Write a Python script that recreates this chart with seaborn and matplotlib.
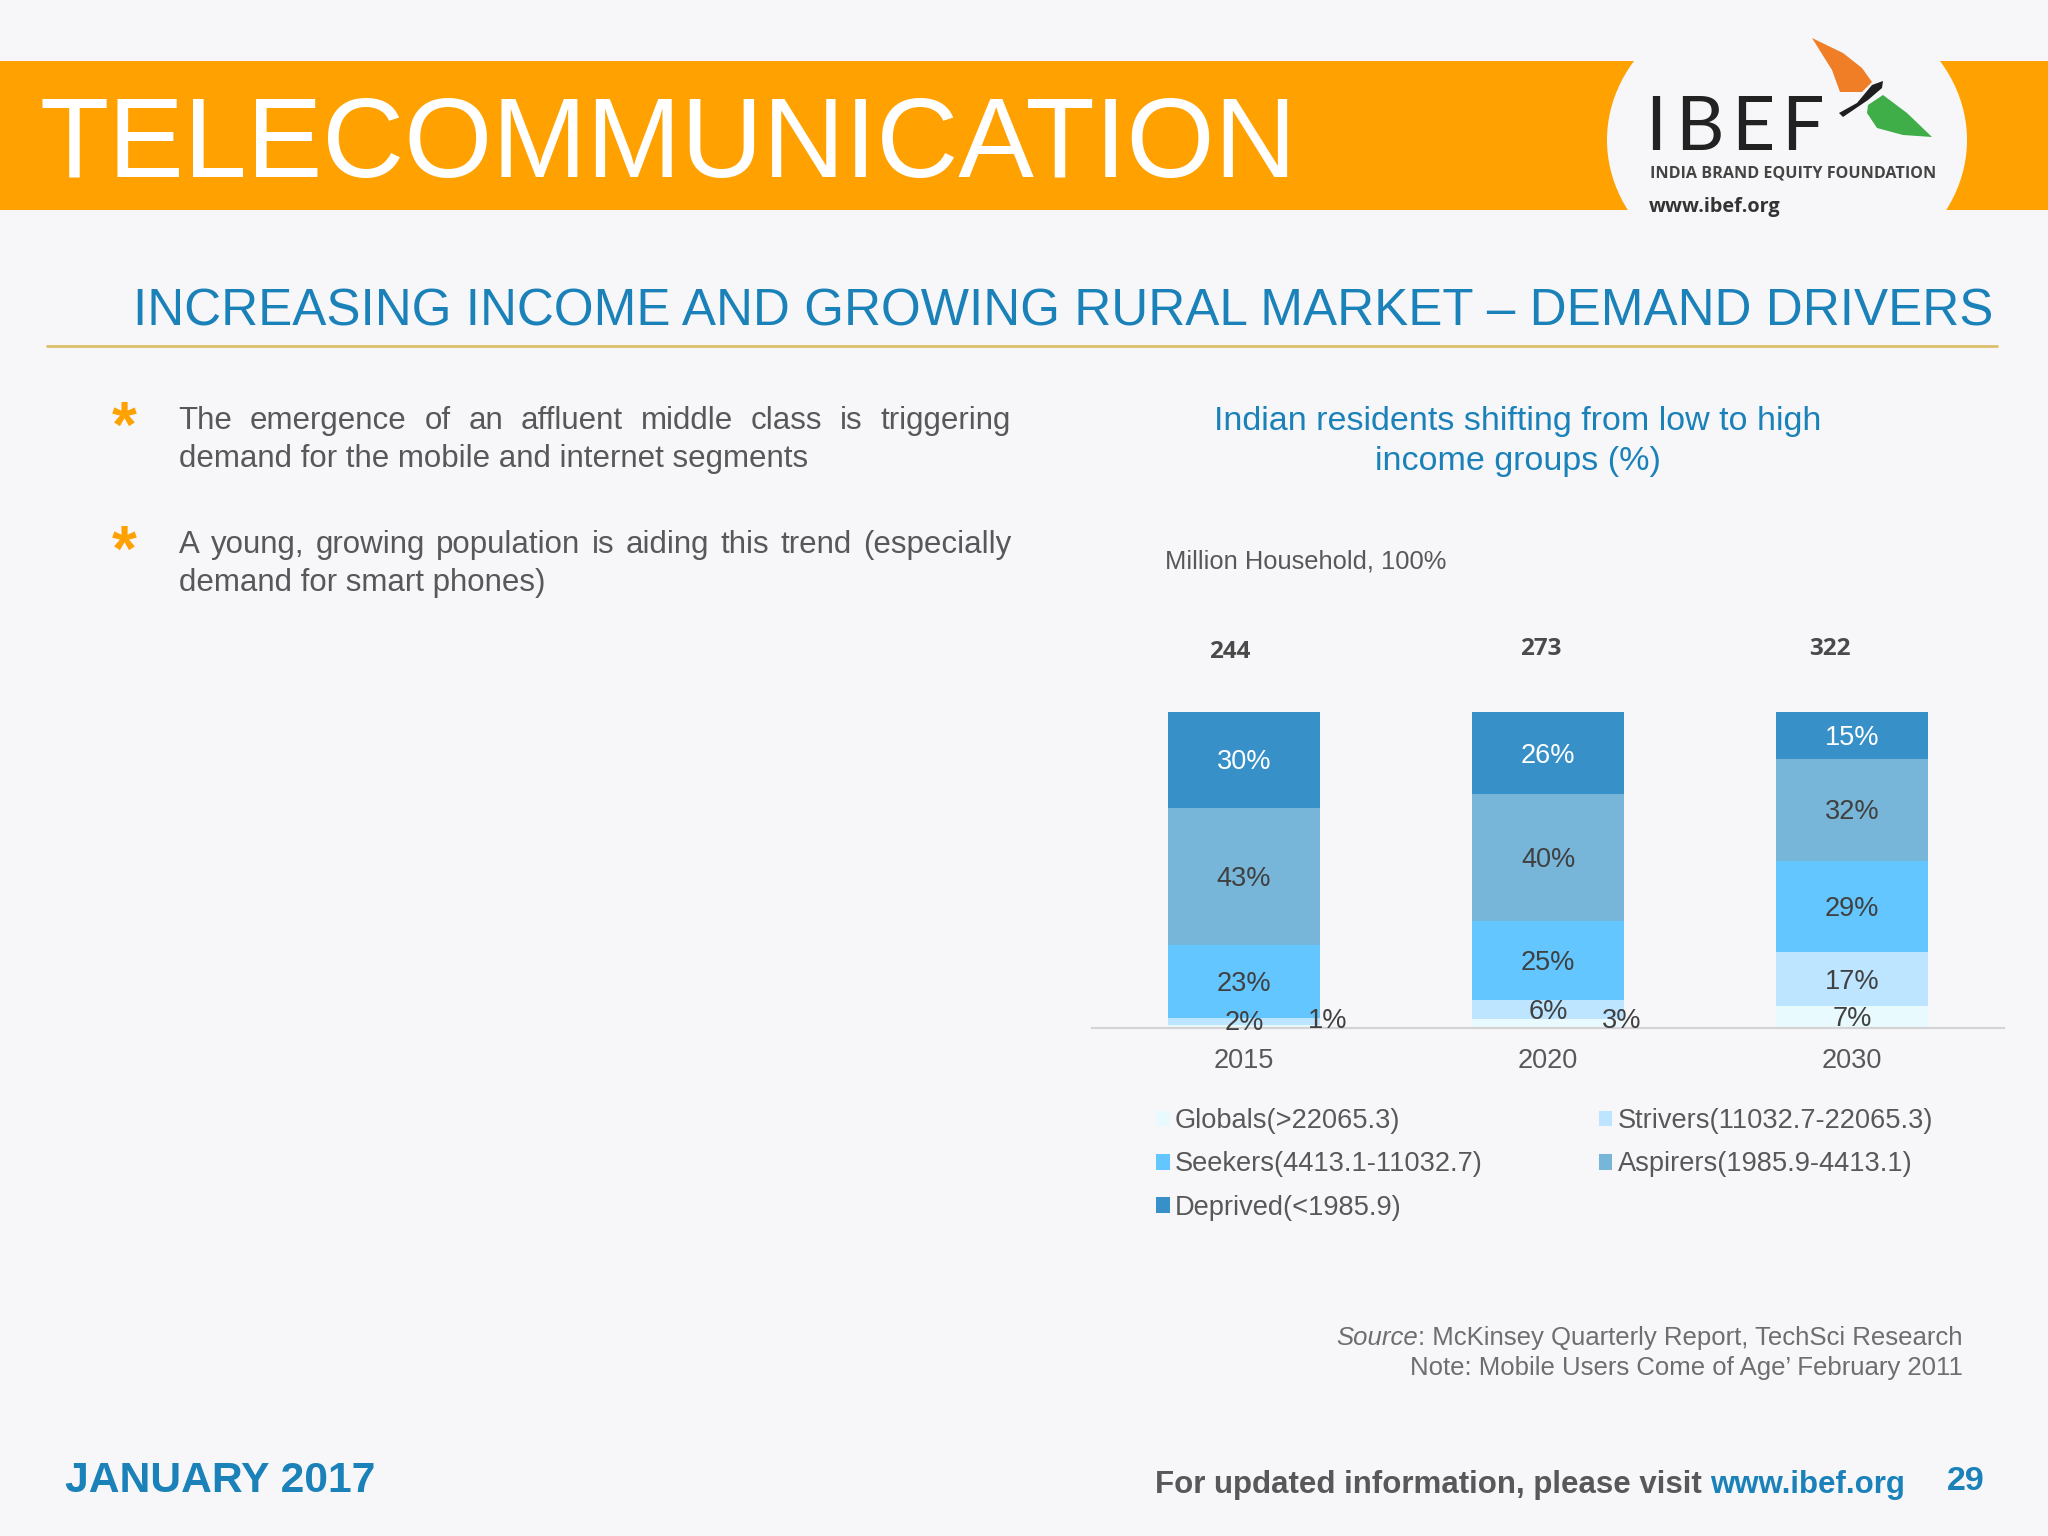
import numpy as np
import pandas as pd
import matplotlib
matplotlib.use("Agg")
import matplotlib.pyplot as plt
from matplotlib.patches import Ellipse, Polygon, Rectangle
import seaborn as sns

# chart values
years = ["2015", "2020", "2030"]
totals = ["244", "273", "322"]
globals_pct = [1, 3, 7]
strivers_pct = [2, 6, 17]
seekers_pct = [23, 25, 29]
aspirers_pct = [43, 40, 32]
deprived_pct = [30, 26, 15]
series_names = ["Globals(>22065.3)", "Strivers(11032.7-22065.3)", "Seekers(4413.1-11032.7)",
                "Aspirers(1985.9-4413.1)", "Deprived(<1985.9)"]
series_colors = ["#E8FAFD", "#BEE5FF", "#63C6FF", "#77B5D9", "#3790C8"]

BG = "#F7F7F9"
BLUE = "#1A81B9"
ORANGE = "#FFA100"
GREY = "#58585A"
W, H = 2048, 1536

sns.set_theme(style="white")
plt.rcParams["font.family"] = ["Liberation Sans", "DejaVu Sans"]

fig = plt.figure(figsize=(W / 100, H / 100), dpi=100, facecolor=BG)

# full page axes in pixels, for the slide furniture
page = fig.add_axes([0, 0, 1, 1], zorder=0)
page.set_xlim(0, W)
page.set_ylim(H, 0)
page.axis("off")

page.add_patch(Rectangle((0, 61), W, 149, color=ORANGE, lw=0))
page.add_patch(Ellipse((1787, 140), 360, 300, color=BG, lw=0))
page.text(40, 177, "TELECOMMUNICATION", color="white", fontsize=81.6)

# logo
page.add_patch(Polygon([(1812, 38), (1843, 53), (1862, 68), (1872, 82), (1862, 92), (1840, 92), (1832, 70)],
                       color="#F07E26", lw=0))
page.add_patch(Polygon([(1883, 95), (1907, 113), (1932, 137), (1903, 135), (1877, 128), (1867, 113), (1868, 105)],
                       color="#3FAE49", lw=0))
page.add_patch(Polygon([(1839, 113), (1857, 103), (1872, 85), (1883, 81), (1882, 88), (1868, 100), (1843, 117)],
                       color="#1E1E1E", lw=0))
for x, letter in zip((1645, 1675, 1731, 1781), "IBEF"):
    page.text(x, 150, letter, color="#222222", fontsize=54, family=["Lato", "DejaVu Sans"])
page.text(1650, 178, "INDIA BRAND EQUITY FOUNDATION", color="#444444", fontsize=11.6, fontweight="bold",
          family=["Open Sans", "DejaVu Sans"])
page.text(1649, 212, "www.ibef.org", color="#333333", fontsize=14.3, fontweight="bold",
          family=["Open Sans", "DejaVu Sans"])

# heading and rule
page.text(133, 326, "INCREASING INCOME AND GROWING RURAL MARKET – DEMAND DRIVERS", color=BLUE, fontsize=36.82)
page.plot([47, 1997], [346, 346], color="#DCBF6A", lw=2)


def justified(line, x0, x1, y, **kw):
    # spread the words of a line over x0..x1
    renderer = fig.canvas.get_renderer()
    words = line.split()
    items = [page.text(0, y, w, **kw) for w in words]
    widths = [t.get_window_extent(renderer).width for t in items]
    gap = (x1 - x0 - sum(widths)) / (len(words) - 1)
    x = x0
    for t, w in zip(items, widths):
        t.set_x(x)
        x += w + gap


body = dict(color=GREY, fontsize=22.5)
justified("The emergence of an affluent middle class is triggering", 178, 1011, 429, **body)
page.text(179, 467, "demand for the mobile and internet segments", **body)
justified("A young, growing population is aiding this trend (especially", 179, 1011, 553, **body)
page.text(179, 591, "demand for smart phones)", **body)
for y in (447, 571):
    page.text(124, y, "*", color=ORANGE, fontsize=46, fontweight="bold", ha="center")

# chart heading
page.text(1518, 430, "Indian residents shifting from low to high", color=BLUE, fontsize=24.45, ha="center")
page.text(1518, 470, "income groups (%)", color=BLUE, fontsize=24.45, ha="center")
page.text(1165, 568, "Million Household, 100%", color=GREY, fontsize=18.4)

# stacked bars
ax = fig.add_axes([1092 / W, 1 - 1028 / H, 912 / W, 316 / H], zorder=1)
ax.patch.set_alpha(0)
df = pd.DataFrame({"year": years, "g": globals_pct, "st": strivers_pct, "se": seekers_pct,
                   "a": aspirers_pct, "d": deprived_pct})
cols = ["g", "st", "se", "a", "d"]
shares = df[cols].div(df[cols].sum(axis=1), axis=0) * 100
bottom = np.zeros(len(years))
for col, name, colour in zip(cols, series_names, series_colors):
    sns.barplot(x=df["year"], y=shares[col], bottom=bottom, color=colour, saturation=1, width=0.5,
                label=name, ax=ax, legend=False, linewidth=0)
    for i, val in enumerate(df[col]):
        mid = bottom[i] + shares[col][i] / 2 - 0.8
        x_off = 0
        if col == "g" and i < 2:  # too thin, label sits beside the bar
            x_off = [0.274, 0.243][i]
            mid = 2.2
        if col == "st" and i == 0:
            mid += 0.5
        ax.text(i + x_off, mid, f"{val}%", ha="center", va="center", fontsize=19.5,
                color="white" if col == "d" else "#404040", zorder=5)
    bottom += shares[col].values

ax.set_xlim(-0.5, 2.5)
ax.set_ylim(0, 100)
ax.set_xlabel("")
ax.set_ylabel("")
ax.set_yticks([])
sns.despine(ax=ax, left=True)
ax.spines["bottom"].set_color("#D4D4D6")
ax.spines["bottom"].set_linewidth(1.6)
ax.tick_params(axis="x", length=0, pad=14.5, labelsize=19.5, labelcolor=GREY)

# legend, filled column by column so the rows read as in the slide
handles, labels = ax.get_legend_handles_labels()
order = [0, 2, 4, 1, 3]
ax.legend([handles[i] for i in order], [labels[i] for i in order], ncol=2, frameon=False,
          loc="upper left", bbox_to_anchor=(1156 / W, 1 - 1108 / H), bbox_transform=fig.transFigure,
          fontsize=19.6, labelcolor=GREY, handlelength=0.5, handleheight=0.5, handletextpad=0.2,
          columnspacing=4.25, labelspacing=0.64, borderpad=0, borderaxespad=0)

# totals above the bars
for x, y, total in zip((1230, 1541, 1830), (658, 655, 655), totals):
    page.text(x, y, total, color="#4A4A4A", fontsize=17.5, fontweight="bold", ha="center",
              family=["Open Sans", "DejaVu Sans"])

# source
renderer = fig.canvas.get_renderer()
src = page.text(1963, 1345, ": McKinsey Quarterly Report, TechSci Research", color="#6E6E70", fontsize=18.5, ha="right")
page.text(1963 - src.get_window_extent(renderer).width, 1345, "Source", color="#6E6E70", fontsize=18.5,
          style="italic", ha="right")
page.text(1963, 1375, "Note: Mobile Users Come of Age’ February 2011", color="#6E6E70", fontsize=18.5, ha="right")

# footer
page.text(65, 1492, "JANUARY 2017", color=BLUE, fontsize=30.7, fontweight="bold")
url = page.text(1905, 1493, "www.ibef.org", color=BLUE, fontsize=22.5, fontweight="bold", ha="right")
page.text(1905 - url.get_window_extent(renderer).width, 1493, "For updated information, please visit ",
          color=GREY, fontsize=22.5, fontweight="bold", ha="right")
page.text(1985, 1490, "29", color=BLUE, fontsize=24.5, fontweight="bold", ha="right")

fig.savefig("out.png", dpi=100, facecolor=BG)
